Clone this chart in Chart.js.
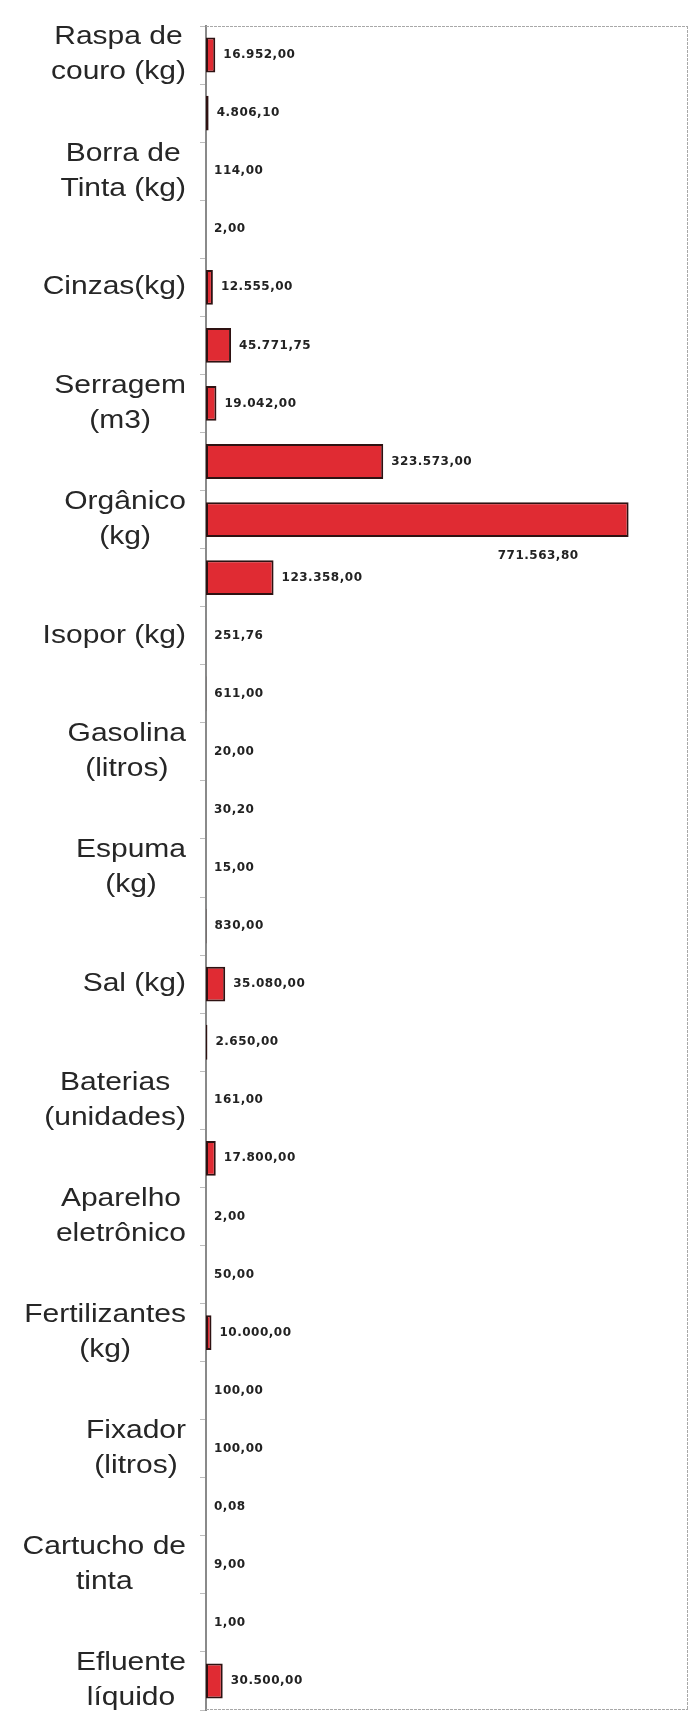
<!DOCTYPE html>
<html>
<head>
<meta charset="utf-8">
<script src="https://cdn.jsdelivr.net/npm/chart.js@4"></script>
<style>
  html, body { margin: 0; padding: 0; background: #fff; }
  #wrap { width: 697px; height: 1715px; position: relative; }
</style>
</head>
<body>
<div id="wrap"><canvas id="c" width="697" height="1715"></canvas></div>
<script>
// Category labels (only every other category carries a visible label in the original)
const categories = [
  ['Raspa de', 'couro (kg)'], '',
  ['Borra de', 'Tinta (kg)'], '',
  ['Cinzas(kg)'], '',
  ['Serragem', '(m3)'], '',
  ['Orgânico', '(kg)'], '',
  ['Isopor (kg)'], '',
  ['Gasolina', '(litros)'], '',
  ['Espuma', '(kg)'], '',
  ['Sal (kg)'], '',
  ['Baterias', '(unidades)'], '',
  ['Aparelho', 'eletrônico'], '',
  ['Fertilizantes', '(kg)'], '',
  ['Fixador', '(litros)'], '',
  ['Cartucho de', 'tinta'], '',
  ['Efluente', 'líquido']
];

// Quantities, one per bar, top to bottom
const quantities = [
  16952.00, 4806.10, 114.00, 2.00, 12555.00, 45771.75, 19042.00, 323573.00,
  771563.80, 123358.00, 251.76, 611.00, 20.00, 30.20, 15.00, 830.00,
  35080.00, 2650.00, 161.00, 17800.00, 2.00, 50.00, 10000.00, 100.00,
  100.00, 0.08, 9.00, 1.00, 30500.00
];

const axisMax = 880000;

function fmtBR(v) {
  const parts = v.toFixed(2).split('.');
  const intPart = parts[0].replace(/\B(?=(\d{3})+(?!\d))/g, '.');
  return intPart + ',' + parts[1];
}

const labelPlugin = {
  id: 'customText',
  afterDatasetsDraw(chart) {
    const ctx = chart.ctx;
    const ca = chart.chartArea;
    const yScale = chart.scales.y;
    const meta = chart.getDatasetMeta(0);

    // frame lines (top, right, bottom)
    ctx.save();
    ctx.strokeStyle = '#a8a8a8';
    ctx.lineWidth = 1;
    ctx.setLineDash([3, 1]);
    ctx.beginPath();
    ctx.moveTo(ca.left, ca.top + 0.5); ctx.lineTo(ca.right, ca.top + 0.5);
    ctx.moveTo(ca.right - 0.5, ca.top); ctx.lineTo(ca.right - 0.5, ca.bottom);
    ctx.moveTo(ca.left, ca.bottom - 0.5); ctx.lineTo(ca.right, ca.bottom - 0.5);
    ctx.stroke();
    ctx.restore();

    // value labels
    ctx.save();
    ctx.font = 'bold 12px "DejaVu Sans"';
    ctx.fillStyle = '#222';
    ctx.textBaseline = 'middle';
    try { ctx.letterSpacing = '0.5px'; } catch (e) {}
    meta.data.forEach((bar, i) => {
      const txt = fmtBR(quantities[i]);
      const w = ctx.measureText(txt).width;
      let x = bar.x + 8;
      let y = bar.y;
      if (x + w > ca.right - 4) {
        // does not fit at the right: place under the bar end
        ctx.textAlign = 'right';
        ctx.fillText(txt, bar.x - 50, y + 36);
      } else {
        ctx.textAlign = 'left';
        ctx.fillText(txt, x, y);
      }
    });
    ctx.restore();

    // category labels: block right-aligned, lines centred inside the block
    ctx.save();
    ctx.font = '25px "Liberation Sans", Arial, sans-serif';
    ctx.fillStyle = '#262626';
    ctx.textBaseline = 'middle';
    ctx.textAlign = 'center';
    const stretch = 1.2;
    const lineH = 35;
    const rightEdge = ca.left - 20;
    categories.forEach((lab, i) => {
      if (!lab || !lab.length) return;
      const lines = Array.isArray(lab) ? lab : [lab];
      const bw = Math.max(...lines.map(l => ctx.measureText(l).width));
      const yc = yScale.getPixelForValue(i);
      ctx.save();
      ctx.translate(rightEdge, yc);
      ctx.scale(stretch, 1);
      const y0 = -(lines.length - 1) * lineH / 2;
      lines.forEach((l, k) => ctx.fillText(l, -bw / 2, y0 + k * lineH));
      ctx.restore();
    });
    ctx.restore();
  }
};

new Chart(document.getElementById('c'), {
  type: 'bar',
  data: {
    labels: categories.map(c => Array.isArray(c) ? c.join(' ') : c),
    datasets: [{
      data: quantities,
      backgroundColor: '#e02b33',
      borderColor: '#2e1212',
      borderWidth: 2,
      borderSkipped: false,
      barPercentage: 0.6,
      categoryPercentage: 1.0
    }]
  },
  options: {
    indexAxis: 'y',
    responsive: false,
    animation: false,
    layout: { padding: { left: 200, top: 26, right: 9, bottom: 5 } },
    plugins: { legend: { display: false }, tooltip: { enabled: false } },
    scales: {
      x: {
        display: false,
        min: 0,
        max: axisMax
      },
      y: {
        offset: true,
        grid: {
          display: true,
          offset: true,
          drawOnChartArea: false,
          drawTicks: true,
          tickLength: 6,
          color: '#bdbdbd'
        },
        border: { display: true, color: '#8a8a8a', width: 2 },
        ticks: { display: false }
      }
    }
  },
  plugins: [labelPlugin]
});
</script>
</body>
</html>
